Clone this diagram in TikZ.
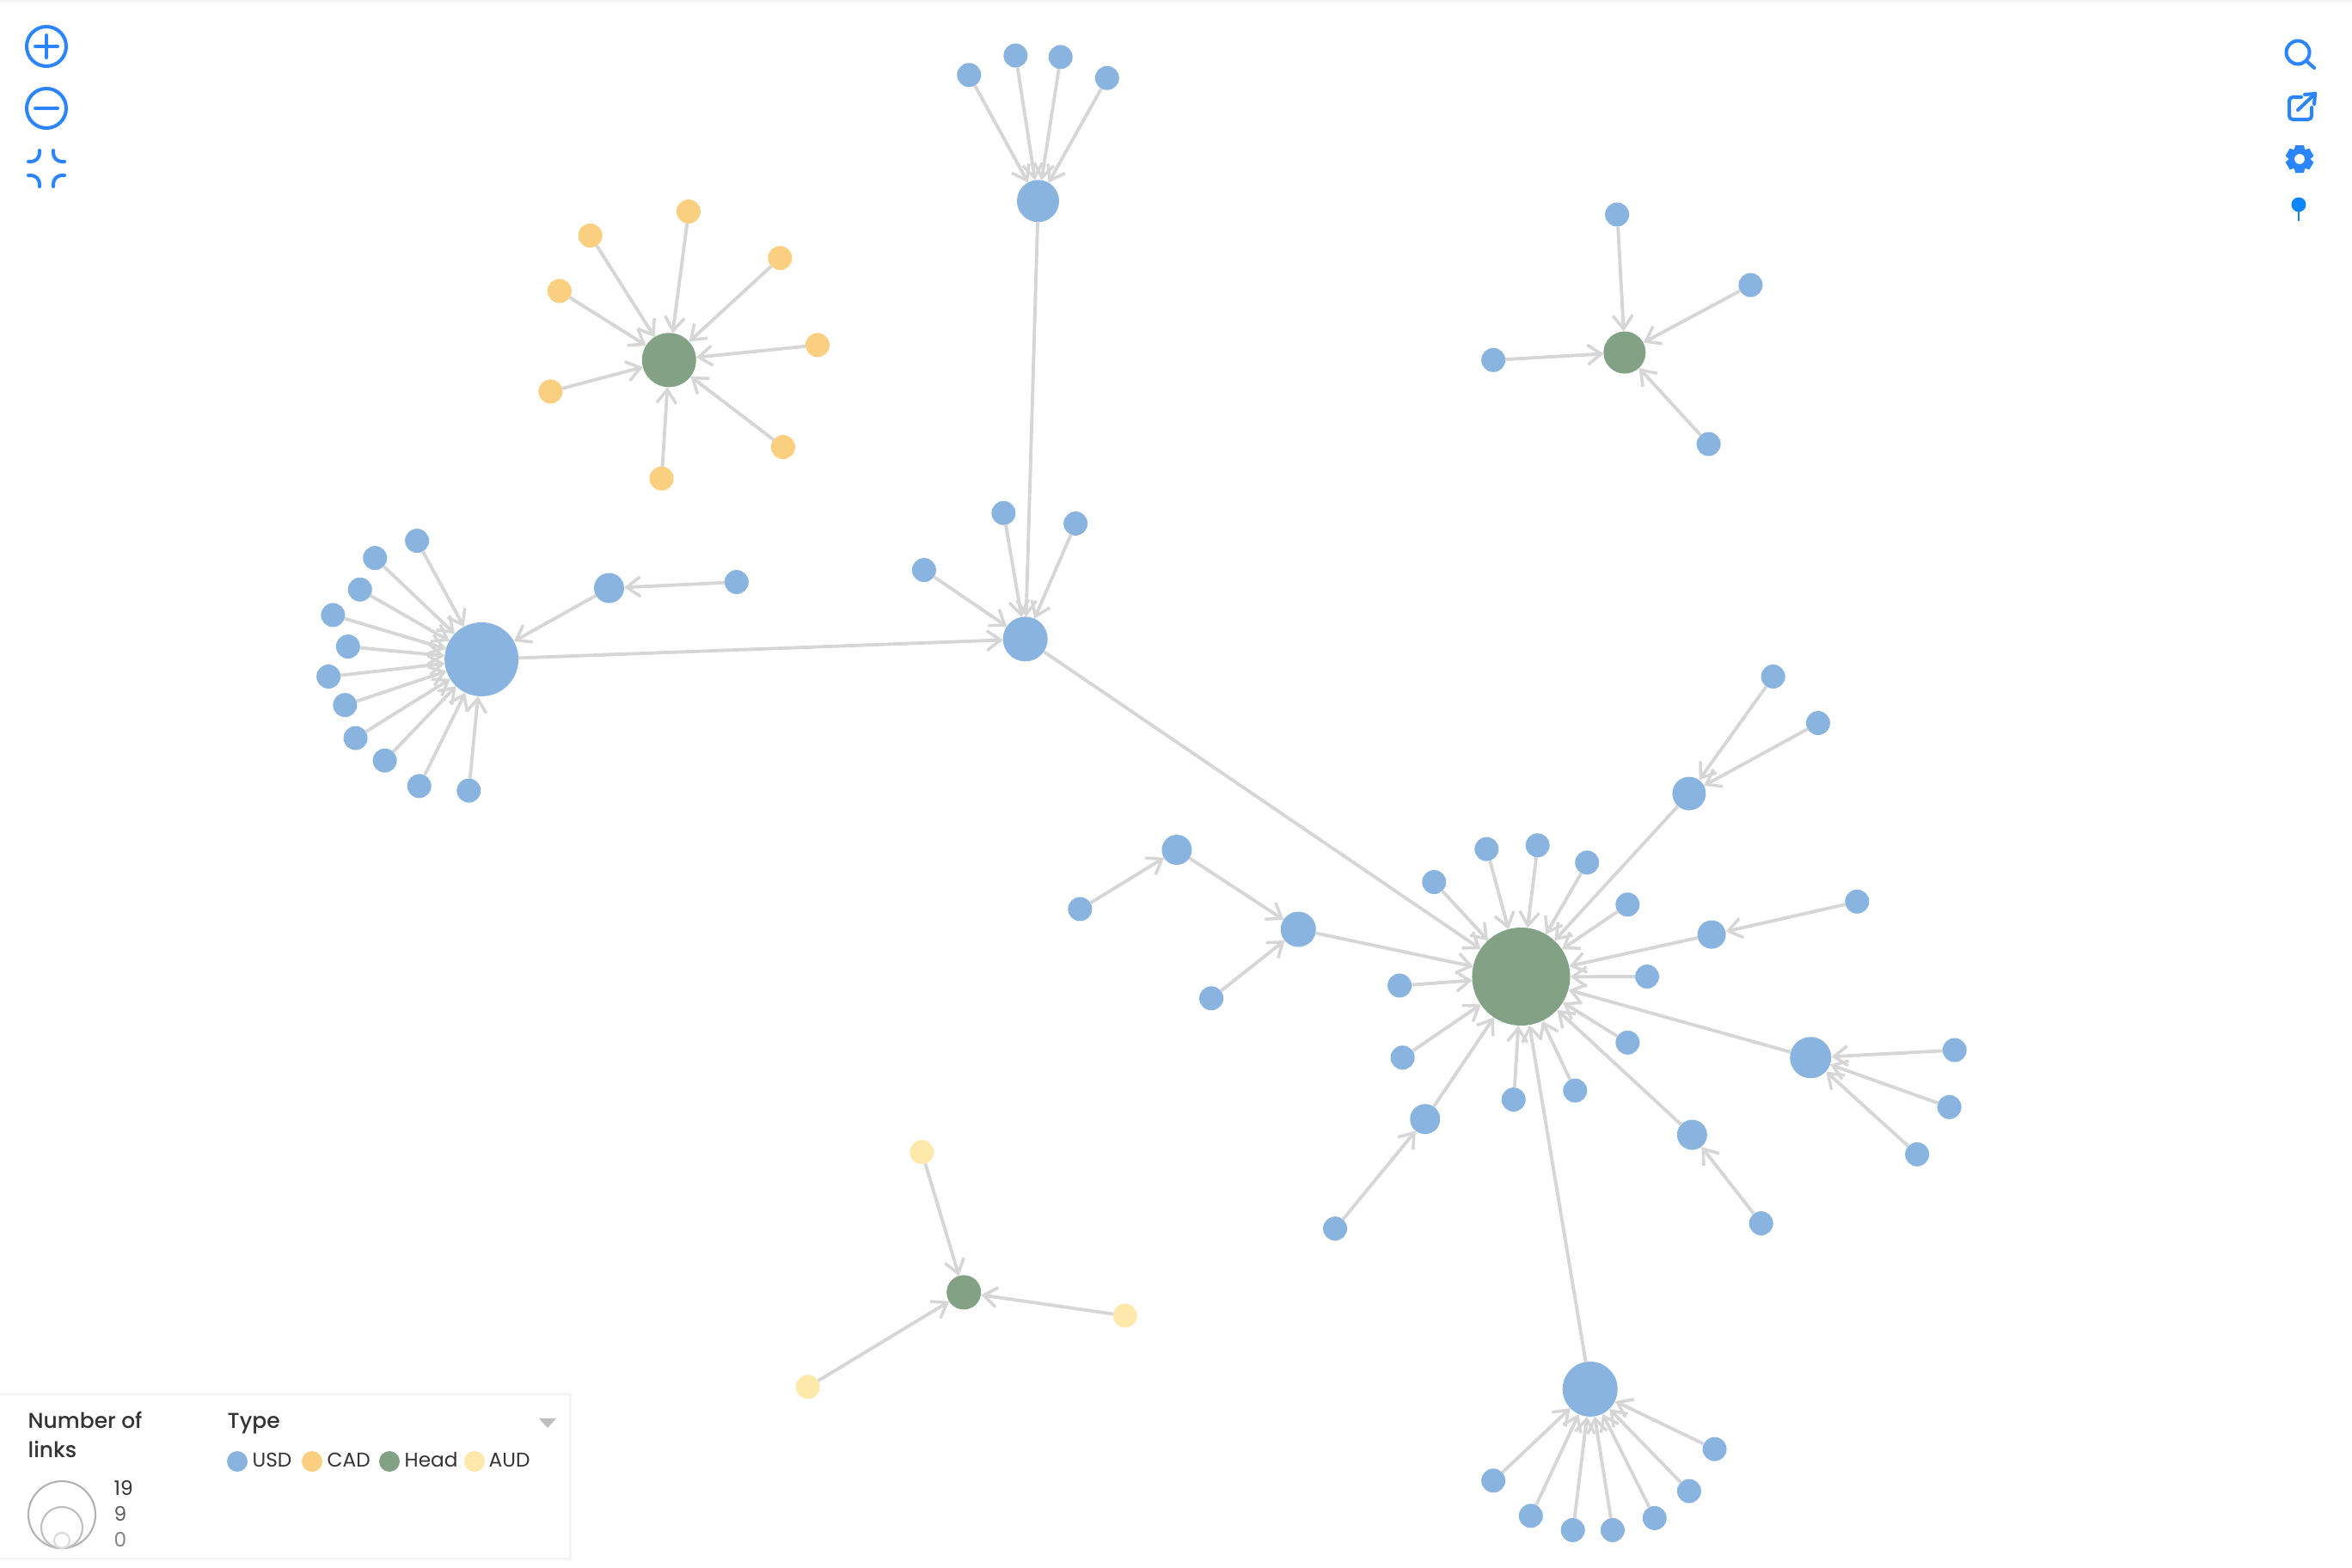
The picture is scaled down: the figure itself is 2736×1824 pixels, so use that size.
\documentclass[tikz,border=0pt]{standalone}
\usepackage{fontspec}
\setmainfont{Poppins}
\newfontfamily\titlefont[UprightFont=* Medium]{Poppins}
\usetikzlibrary{arrows.meta}
\definecolor{usdblue}{HTML}{8AB4E0}
\definecolor{cadorange}{HTML}{FBCF80}
\definecolor{headgreen}{HTML}{82A185}
\definecolor{audyellow}{HTML}{FEE9AB}
\definecolor{linkgray}{HTML}{D6D6D6}
\definecolor{iconblue}{HTML}{2A85FF}
\definecolor{pinblue}{HTML}{0A84FF}
\definecolor{textdark}{HTML}{333333}
\tikzset{
  ball/.style={circle, inner sep=0pt, outer sep=0pt, minimum size=#1*0.01cm},
  usd/.style={ball=#1, fill=usdblue},
  cad/.style={ball=#1, fill=cadorange},
  head/.style={ball=#1, fill=headgreen},
  aud/.style={ball=#1, fill=audyellow},
  usd/.default=28, cad/.default=28, aud/.default=28,
  link/.style={draw=linkgray, line width=1.1pt, ->},
  icon/.style={draw=iconblue, line width=1.15pt, line cap=round},
  legendtext/.style={anchor=base west, inner sep=0pt, text=textdark, font=\fontsize{6.6}{8}\selectfont},
  legendtitle/.style={legendtext, font=\titlefont\fontsize{7.1}{8}\selectfont},
  sizering/.style={draw=#1, line width=0.6pt}
}
\begin{document}
\begin{tikzpicture}[x=0.01cm, y=-0.01cm, >={Straight Barb[length=4.5pt, width=6.5pt, line width=1pt]}]
\useasboundingbox (0,0) rectangle (2736,1824);
\fill[black!4] (0,0) rectangle (2736,3);

\begin{scope}[scale=1.745]
\node[usd=49] (a) at (692,134) {};
\node[usd] (a1) at (646,50) {};
\node[usd] (a2) at (677,37) {};
\node[usd] (a3) at (707,38) {};
\node[usd] (a4) at (738,52) {};
\node[head=63] (b) at (446,240) {};
\node[cad] (b1) at (393.5,157) {};
\node[cad] (b2) at (459,141) {};
\node[cad] (b3) at (520,172) {};
\node[cad] (b4) at (545,230) {};
\node[cad] (b5) at (522,298) {};
\node[cad] (b6) at (441,319) {};
\node[cad] (b7) at (367,261) {};
\node[cad] (b8) at (373,194) {};
\node[head=49] (c) at (1083,235) {};
\node[usd] (c1) at (1078,143) {};
\node[usd] (c2) at (1167,190) {};
\node[usd] (c3) at (1139,296) {};
\node[usd] (c4) at (995.5,240) {};
\node[usd=52] (d) at (683.5,426) {};
\node[usd] (d1) at (669,342) {};
\node[usd] (d2) at (717,349) {};
\node[usd] (d3) at (616,380) {};
\node[usd=86] (e) at (321,439.5) {};
\node[usd] (e1) at (278,360.5) {};
\node[usd] (e2) at (250,372) {};
\node[usd] (e3) at (240,393) {};
\node[usd] (e4) at (222,410) {};
\node[usd] (e5) at (232,431) {};
\node[usd] (e6) at (219,451) {};
\node[usd] (e7) at (230,470) {};
\node[usd] (e8) at (237,492) {};
\node[usd] (e9) at (256.5,507) {};
\node[usd] (e10) at (279.5,524) {};
\node[usd] (e11) at (312.5,527) {};
\node[usd=35] (g) at (406,392) {};
\node[usd] (g1) at (491,388) {};
\node[head=114] (f) at (1014,651) {};
\node[usd] (f1) at (956,588) {};
\node[usd] (f2) at (991,566) {};
\node[usd] (f3) at (1025,563.5) {};
\node[usd] (f4) at (1058,575) {};
\node[usd] (f5) at (1085,603) {};
\node[usd] (f6) at (1098,651) {};
\node[usd] (f7) at (1085,695) {};
\node[usd] (f8) at (1050,727) {};
\node[usd] (f9) at (1009,733) {};
\node[usd] (f10) at (935,705) {};
\node[usd] (f11) at (933,657) {};
\node[usd=39] (h) at (1126,529) {};
\node[usd] (h1) at (1182,451) {};
\node[usd] (h2) at (1212,482) {};
\node[usd=33] (i) at (1141,623) {};
\node[usd] (i1) at (1238,601) {};
\node[usd=48] (j) at (1207,705) {};
\node[usd] (j1) at (1303,700) {};
\node[usd] (j2) at (1299.5,738) {};
\node[usd] (j3) at (1278,769.5) {};
\node[usd=35] (k) at (1128,756.5) {};
\node[usd] (k1) at (1174,815.5) {};
\node[usd=64] (l) at (1060,926) {};
\node[usd] (l1) at (1143,966) {};
\node[usd] (l2) at (1126,994) {};
\node[usd] (l3) at (1103,1012) {};
\node[usd] (l4) at (1075,1020) {};
\node[usd] (l5) at (1048.5,1020) {};
\node[usd] (l6) at (1020.5,1010.5) {};
\node[usd] (l7) at (995.5,987) {};
\node[usd=35] (m) at (950,746) {};
\node[usd] (m1) at (890,819) {};
\node[usd=41] (n) at (865.5,619.5) {};
\node[usd=35] (n1) at (784.5,566.5) {};
\node[usd] (n2) at (807.5,665.5) {};
\node[usd] (n3) at (720,606) {};
\node[head=40] (o) at (642.5,861.5) {};
\node[aud] (o1) at (614.5,768) {};
\node[aud] (o2) at (750,877) {};
\node[aud] (o3) at (538.5,924.5) {};

\draw[link] (a1)--(a);
\draw[link] (a2)--(a);
\draw[link] (a3)--(a);
\draw[link] (a4)--(a);
\draw[link] (b1)--(b);
\draw[link] (b2)--(b);
\draw[link] (b3)--(b);
\draw[link] (b4)--(b);
\draw[link] (b5)--(b);
\draw[link] (b6)--(b);
\draw[link] (b7)--(b);
\draw[link] (b8)--(b);
\draw[link] (c1)--(c);
\draw[link] (c2)--(c);
\draw[link] (c3)--(c);
\draw[link] (c4)--(c);
\draw[link] (a)--(d);
\draw[link] (d1)--(d);
\draw[link] (d2)--(d);
\draw[link] (d3)--(d);
\draw[link] (e)--(d);
\draw[link] (d)--(f);
\draw[link] (e1)--(e);
\draw[link] (e2)--(e);
\draw[link] (e3)--(e);
\draw[link] (e4)--(e);
\draw[link] (e5)--(e);
\draw[link] (e6)--(e);
\draw[link] (e7)--(e);
\draw[link] (e8)--(e);
\draw[link] (e9)--(e);
\draw[link] (e10)--(e);
\draw[link] (e11)--(e);
\draw[link] (g)--(e);
\draw[link] (g1)--(g);
\draw[link] (f1)--(f);
\draw[link] (f2)--(f);
\draw[link] (f3)--(f);
\draw[link] (f4)--(f);
\draw[link] (f5)--(f);
\draw[link] (f6)--(f);
\draw[link] (f7)--(f);
\draw[link] (f8)--(f);
\draw[link] (f9)--(f);
\draw[link] (f10)--(f);
\draw[link] (f11)--(f);
\draw[link] (h)--(f);
\draw[link] (i)--(f);
\draw[link] (j)--(f);
\draw[link] (k)--(f);
\draw[link] (l)--(f);
\draw[link] (m)--(f);
\draw[link] (n)--(f);
\draw[link] (h1)--(h);
\draw[link] (h2)--(h);
\draw[link] (i1)--(i);
\draw[link] (j1)--(j);
\draw[link] (j2)--(j);
\draw[link] (j3)--(j);
\draw[link] (k1)--(k);
\draw[link] (l1)--(l);
\draw[link] (l2)--(l);
\draw[link] (l3)--(l);
\draw[link] (l4)--(l);
\draw[link] (l5)--(l);
\draw[link] (l6)--(l);
\draw[link] (l7)--(l);
\draw[link] (m1)--(m);
\draw[link] (n1)--(n);
\draw[link] (n2)--(n);
\draw[link] (n3)--(n1);
\draw[link] (o1)--(o);
\draw[link] (o2)--(o);
\draw[link] (o3)--(o);
\end{scope}

\fill[black!2] (0,1619) rectangle (666,1816);
\fill[black!5] (0,1621) rectangle (664,1814);
\fill[white] (0,1623) rectangle (662,1812);
\node[legendtitle] (linkstitle) at (32,1661) {Number of};
\node[legendtitle] (linkstitle2) at (32,1695) {links};
\node[legendtitle] (typetitle) at (264,1661) {Type};
\fill[gray!50] (627,1650)--(647,1650)--(637,1661)--cycle;
\node[usd=24] (usdkey) at (276,1700) {};
\node[cad=24] (cadkey) at (363,1700) {};
\node[head=24] (headkey) at (453,1700) {};
\node[aud=24] (audkey) at (552,1700) {};
\node[legendtext] (usdlabel) at (293,1706) {USD};
\node[legendtext] (cadlabel) at (380,1706) {CAD};
\node[legendtext] (headlabel) at (470,1706) {Head};
\node[legendtext] (audlabel) at (568,1706) {AUD};
\draw[sizering=black!30] (72,1762) circle (39);
\draw[sizering=black!25] (72,1777) circle (24);
\draw[sizering=black!15] (72,1792) circle (9);
\node[legendtext] (max) at (132,1739) {19};
\node[legendtext, text=textdark!80] (mid) at (132,1769) {9};
\node[legendtext, text=textdark!60] (min) at (132,1799) {0};

\draw[icon] (54,54) circle (23);
\draw[icon] (41,54)--(67,54);
\draw[icon] (54,41)--(54,67);
\draw[icon] (54,126) circle (23);
\draw[icon] (41,126)--(67,126);
\draw[icon] (46,175)--(46,178) arc[start angle=0, end angle=90, radius=10]--(33,188);
\draw[icon] (62,175)--(62,178) arc[start angle=180, end angle=90, radius=10]--(75,188);
\draw[icon] (46,217)--(46,214) arc[start angle=0, end angle=-90, radius=10]--(33,204);
\draw[icon] (62,217)--(62,214) arc[start angle=180, end angle=270, radius=10]--(75,204);

\draw[icon] (2673,61) circle (13.5);
\draw[icon] (2683,71)--(2692,79);
\draw[icon, rounded corners=1.2pt] (2677,113)--(2663,113)--(2663,139)--(2689,139)--(2689,125);
\draw[icon] (2673,128)--(2692,110);
\draw[icon] (2681,110)--(2693,109)--(2692,121);
\foreach \ang in {0,60,...,300}
  \fill[iconblue, rotate around={\ang:(2675,185)}] (2670,169)--(2680,169)--(2682,178)--(2668,178)--cycle;
\fill[iconblue, even odd rule] (2675,185) circle (12.5) (2675,185) circle (6);
\fill[pinblue] (2674,238) circle (8.5);
\draw[pinblue, line width=0.8pt] (2674,240)--(2674,257);
\end{tikzpicture}
\end{document}
